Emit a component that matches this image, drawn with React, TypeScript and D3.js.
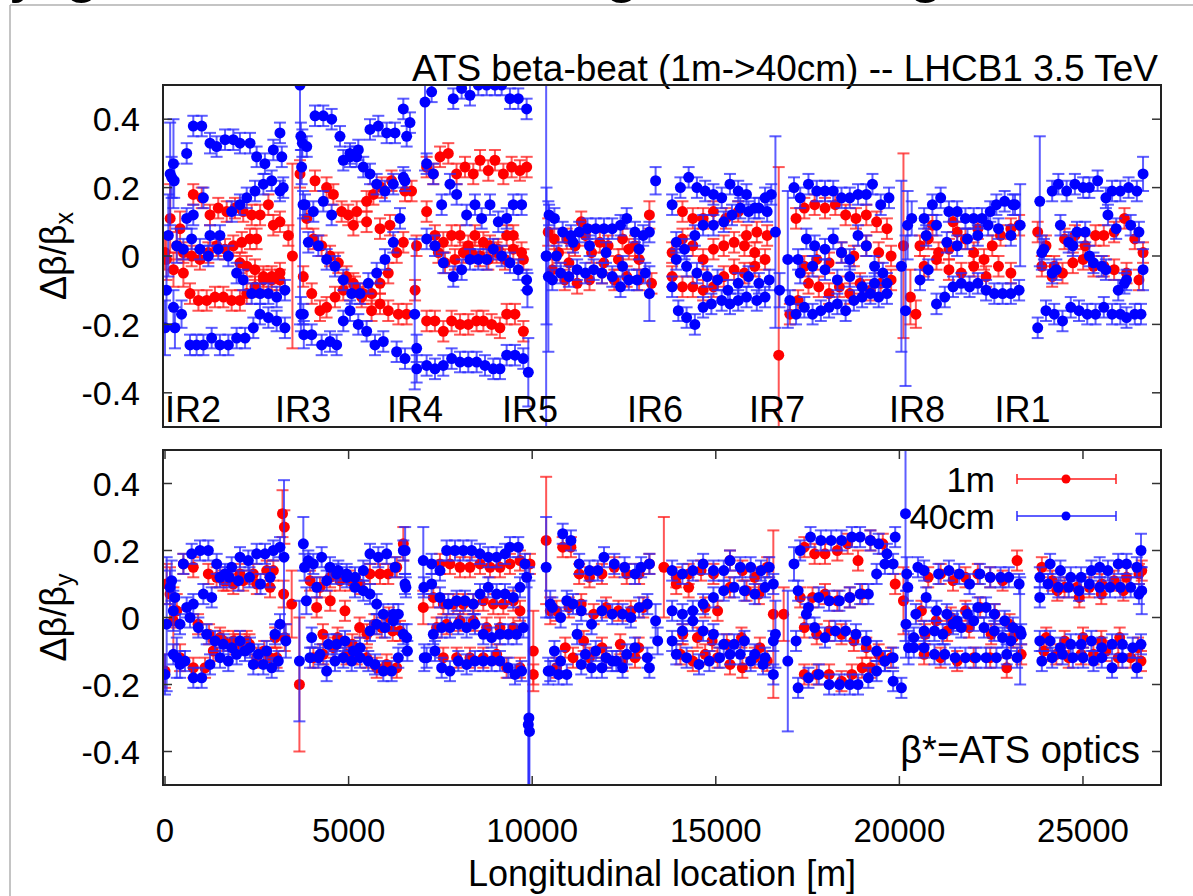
import React, { useMemo } from "react";
import * as d3 from "d3";

type Pt = [number, number, number?];

// typical half-length of an error bar
const typicalErr = 0.03;

const xTicks = [0, 5000, 10000, 15000, 20000, 25000];
const yTicks = [-0.4, -0.2, 0, 0.2, 0.4];
const yTickLabels = ["-0.4", "-0.2", "0", "0.2", "0.4"];

const irLabels: [string, number][] = [
  ["IR2", 0], ["IR3", 2995], ["IR4", 6045], ["IR5", 9177],
  ["IR6", 12580], ["IR7", 15904], ["IR8", 19716], ["IR1", 22588],
];

// horizontal plane, beta* = 1m
const bxRed: Pt[] = [
  [0, 0.01, 0.05], [40, -0.01, 0.06], [140, 0.11, 0.1], [230, -0.04, 0.05], [320, 0.03, 0.04], [410, 0.08, 0.05], [500, -0.05, 0.04],
  [770, 0.18], [1000, 0.17], [1225, 0.12], [1450, 0.14], [1680, 0.13], [1905, 0.14], [2130, 0.13], [2360, 0.12], [2590, 0.12], [2815, 0.15], [2950, 0.09], [3130, 0.1], [3360, 0.06],
  [500, 0.01], [725, 0.0], [950, -0.01], [1180, 0.01], [1405, 0.03], [1635, 0.02], [1860, 0.03], [2090, 0.04], [2315, 0.05], [2495, 0.05],
  [2040, -0.02], [2225, -0.03], [2450, -0.04], [2680, -0.06], [2905, -0.07], [3130, -0.07],
  [680, -0.11], [910, -0.13], [1135, -0.13], [1360, -0.12], [1590, -0.12], [1815, -0.13], [2040, -0.13], [2225, -0.11], [2450, -0.09], [2680, -0.07], [2905, -0.06], [3130, -0.05],
  [3470, 0.0, 0.27], [3676, 0.24, 0.04],
  [4085, 0.22], [4400, 0.2], [4585, 0.18], [4810, 0.13], [4990, 0.12], [5220, 0.13], [5490, 0.16], [5675, 0.18], [5900, 0.2], [6170, 0.22], [6535, 0.19], [6715, 0.19],
  [4040, 0.05], [4265, 0.03], [4495, 0.0], [4720, -0.02], [4945, -0.06], [5175, -0.09], [5400, -0.11], [5630, -0.11], [5855, -0.08], [6080, -0.05], [6310, 0.01], [6490, 0.04],
  [3765, -0.06], [3995, -0.11], [4220, -0.16], [4400, -0.15], [4630, -0.12], [4855, -0.1], [5130, -0.08], [5355, -0.12], [5625, -0.16], [5855, -0.14], [6080, -0.16], [6355, -0.17], [6580, -0.17],
  [3860, 0.11], [5130, 0.09], [5490, 0.1], [5855, 0.08], [6125, 0.09], [6810, -0.1], [6850, 0.03],
  [7125, 0.26], [7305, 0.24], [7490, 0.29], [7715, 0.3], [7940, 0.24], [8170, 0.26], [8395, 0.24], [8580, 0.28], [8805, 0.25], [8985, 0.28], [9215, 0.24], [9440, 0.26], [9665, 0.25], [9850, 0.26],
  [7125, 0.13], [7350, 0.06], [7580, 0.04], [7805, 0.06], [8035, 0.06], [8260, 0.03], [8440, 0.06], [8670, 0.04], [8850, 0.03], [9075, 0.02], [9305, 0.06], [9485, 0.06], [9710, 0.01],
  [7445, 0.01], [7625, -0.02], [7895, -0.01], [8125, 0.01], [8350, 0.01], [8580, 0.0], [8805, -0.01], [9030, 0.01], [9260, -0.01], [9485, 0.02], [9760, -0.01],
  [7125, -0.19], [7350, -0.19], [7580, -0.22], [7805, -0.19], [8035, -0.2], [8260, -0.2], [8485, -0.19], [8670, -0.19], [8895, -0.2], [9120, -0.21], [9305, -0.17], [9530, -0.17], [9760, -0.22],
  [10436, 0.07, 0.04], [10600, 0.05], [10717, 0.01], [10942, 0.05], [11000, -0.02], [11167, 0.03], [11336, 0.1], [11450, 0.06], [11617, 0.01], [11842, 0.04], [11950, -0.02], [12067, 0.03], [12349, -0.01], [12460, 0.05], [12630, 0.02], [12800, 0.03], [12911, -0.01], [13192, 0.12, 0.04],
  [10549, -0.04], [10886, -0.07], [11224, -0.08], [11561, -0.07], [11899, -0.05], [12236, -0.07], [12574, -0.06], [12911, -0.07], [13249, -0.08],
  [14092, 0.13], [14374, 0.11], [14655, 0.11], [14936, 0.13], [15274, 0.11], [15611, 0.13], [15836, 0.06], [16117, 0.07], [16399, 0.06],
  [13811, 0.01], [14092, 0.05], [14374, 0.03], [14655, -0.01], [14936, 0.02], [15217, 0.03], [15499, 0.04], [15780, 0.03], [16061, 0.01], [16342, -0.01],
  [13811, -0.06], [14092, -0.09], [14374, -0.09], [14655, -0.1], [14936, -0.09], [15217, -0.06], [15499, -0.04], [15780, -0.05], [16061, -0.03],
  [16714, -0.29, 0.55],
  [17186, 0.11], [17411, 0.14], [17692, 0.15], [17974, 0.14], [18255, 0.15], [18536, 0.12], [18817, 0.11], [19099, 0.12], [19380, 0.1], [19661, 0.08],
  [17017, -0.17], [17242, -0.13], [17524, -0.08], [17805, -0.09], [18086, -0.11], [18367, -0.09], [18649, -0.11], [18930, -0.08], [19211, -0.1], [19492, -0.08], [19774, -0.07],
  [17411, -0.03], [17749, -0.01], [18086, -0.02], [18424, 0.01], [18761, 0.0], [19099, 0.03], [19436, 0.01], [19774, 0.0],
  [20111, 0.03, 0.27], [20449, -0.17, 0.04], [20300, -0.12, 0.08],
  [20561, 0.03], [20786, 0.05], [21067, 0.01], [21349, 0.02], [21574, 0.07], [21799, 0.05], [22024, 0.01], [22305, -0.01], [22530, 0.03], [22755, 0.06], [23036, 0.08], [23261, 0.09],
  [20674, -0.03], [21011, -0.01], [21349, -0.04], [21686, -0.05], [22024, -0.03], [22361, -0.06], [22699, -0.03], [23036, -0.05],
  [20899, 0.09], [21461, 0.1], [22136, 0.08],
  [23767, 0.07], [23992, 0.03], [24217, -0.03], [24499, 0.05], [24780, 0.06], [25061, 0.03], [25342, 0.06], [25567, 0.06], [25849, 0.07], [26130, 0.11], [26411, 0.05], [26636, 0.01],
  [23880, -0.03], [24161, -0.06], [24442, -0.05], [24724, -0.02], [25005, -0.01], [25286, -0.03], [25567, -0.03], [25849, -0.04], [26186, -0.05], [26524, -0.07],
];

// horizontal plane, beta* = 40cm
const bxBlue: Pt[] = [
  [0, -0.21, 0.08], [40, -0.1, 0.1], [90, 0.06, 0.12], [140, 0.24, 0.15], [180, 0.23, 0.06], [230, 0.27, 0.13], [250, 0.22, 0.05], [230, -0.15, 0.05], [270, -0.21, 0.06], [320, 0.03, 0.05], [450, -0.17, 0.04],
  [590, 0.3], [770, 0.38], [1000, 0.38], [1225, 0.33], [1405, 0.32], [1635, 0.34], [1860, 0.34], [2040, 0.33], [2315, 0.33], [2495, 0.29], [2720, 0.27], [2950, 0.31], [3130, 0.36],
  [590, 0.11], [770, 0.12], [1045, 0.17], [1225, 0.06], [1495, 0.06], [1815, 0.13], [2040, 0.15], [2225, 0.17], [2450, 0.19], [2680, 0.21], [2905, 0.22], [3130, 0.19],
  [500, 0.02], [725, 0.05], [950, 0.02], [1180, 0.0], [1450, 0.02], [1725, 0.0], [1950, -0.05], [2130, -0.07], [2360, -0.11], [2590, -0.11], [2815, -0.11], [3040, -0.12], [3265, -0.1],
  [680, -0.26], [860, -0.26], [1045, -0.26], [1270, -0.24], [1495, -0.26], [1725, -0.26], [1950, -0.24], [2180, -0.24], [2405, -0.21], [2585, -0.17], [2815, -0.18], [3040, -0.19], [3265, -0.21],
  [3180, 0.29], [3220, 0.2],
  [3676, 0.5, 0.7], [3700, 0.35, 0.04], [3740, 0.33, 0.04], [3720, 0.26, 0.05], [3760, 0.15, 0.04], [3700, -0.17, 0.05], [3780, -0.23, 0.04],
  [3860, 0.32], [4085, 0.41], [4311, 0.41], [4538, 0.4], [4765, 0.35], [5038, 0.29], [5264, 0.31], [5582, 0.37], [5809, 0.38], [6036, 0.36], [6263, 0.36], [6490, 0.43], [6581, 0.35], [6671, 0.39],
  [3812, 0.15], [4039, 0.13], [4311, 0.16], [4538, 0.12], [4856, 0.28], [5038, 0.3], [5219, 0.29], [5400, 0.26], [5582, 0.24], [5764, 0.21], [5990, 0.19], [6217, 0.21], [6490, 0.23],
  [3903, 0.04], [4175, 0.03], [4402, -0.01], [4629, -0.03], [4856, -0.07], [5083, -0.11], [5310, -0.11], [5537, -0.08], [5764, -0.05], [5990, -0.01], [6217, 0.04], [6399, 0.11], [6535, 0.22],
  [3767, -0.17], [3994, -0.23], [4266, -0.26], [4493, -0.25], [4674, -0.26], [4856, -0.19], [5038, -0.16], [5264, -0.2], [5491, -0.22], [5718, -0.26], [5945, -0.25], [6308, -0.28], [6535, -0.3], [6853, -0.33, 0.04], [6853, -0.27, 0.04],
  [6800, -0.17, 0.22],
  [7080, 0.45, 0.2], [7261, 0.48], [7851, 0.46], [8078, 0.49], [8305, 0.47], [8532, 0.5], [8759, 0.5], [8986, 0.5], [9168, 0.5], [9394, 0.46], [9621, 0.46], [9848, 0.43],
  [7125, 0.27], [7307, 0.24], [7534, 0.15], [7760, 0.21], [7942, 0.18], [8214, 0.12], [8441, 0.15], [8623, 0.11], [8850, 0.15], [9077, 0.1], [9304, 0.11], [9485, 0.15], [9712, 0.15],
  [7125, 0.05], [7352, 0.03], [7579, -0.02], [7851, -0.06], [8078, -0.04], [8305, -0.01], [8532, -0.01], [8759, -0.01], [8941, 0.02], [9168, 0.0], [9394, -0.02], [9621, -0.04], [9848, -0.07], [9870, -0.1, 0.05],
  [7125, -0.32], [7352, -0.33], [7579, -0.32], [7806, -0.3], [8033, -0.31], [8260, -0.31], [8487, -0.31], [8714, -0.32], [8941, -0.33], [9122, -0.33], [9304, -0.29], [9531, -0.29], [9757, -0.3], [9894, -0.34, 0.1],
  [10380, 0.0, 0.6], [10390, 0.0, 0.2], [10440, -0.06, 0.22], [10460, 0.12, 0.03],
  [10605, 0.11], [10830, 0.07], [11055, 0.06], [11280, 0.07], [11505, 0.08], [11730, 0.08], [11955, 0.08], [12180, 0.08], [12405, 0.09], [12574, 0.11], [12799, 0.07], [13024, 0.06], [13192, 0.07],
  [10549, -0.07], [10774, -0.05], [10999, -0.06], [11224, -0.04], [11449, -0.05], [11674, -0.04], [11899, -0.05], [12180, -0.06], [12405, -0.09], [12630, -0.07], [12855, -0.07], [13080, -0.05],
  [10661, 0.0], [11111, 0.04], [11561, 0.03], [12011, 0.01], [12461, -0.03], [12911, 0.02],
  [13361, 0.22, 0.04], [13192, -0.11, 0.08],
  [13811, 0.15], [14036, 0.2], [14261, 0.23], [14486, 0.2], [14711, 0.19], [14936, 0.18], [15161, 0.17], [15386, 0.21], [15611, 0.19], [15836, 0.18], [16061, 0.14], [16342, 0.17], [16511, 0.18],
  [13811, -0.09], [13980, -0.16], [14205, -0.18], [14430, -0.2], [14655, -0.15], [14880, -0.14], [15161, -0.13], [15386, -0.14], [15611, -0.13], [15836, -0.12], [16117, -0.13], [16342, -0.12],
  [13924, 0.04], [14149, 0.02], [14430, 0.06], [14655, 0.09], [14936, 0.09], [15217, 0.1], [15442, 0.12], [15667, 0.14], [15892, 0.13], [16174, 0.14], [16399, 0.13],
  [13924, -0.01], [14205, -0.03], [14486, -0.05], [14767, -0.06], [15049, -0.07], [15330, -0.1], [15611, -0.08], [15892, -0.06], [16174, -0.08], [16455, -0.07],
  [16624, 0.07, 0.28], [16736, -0.1, 0.05], [16961, -0.01, 0.2],
  [17130, 0.2], [17299, 0.17], [17524, 0.21], [17749, 0.19], [17974, 0.19], [18199, 0.19], [18424, 0.17], [18649, 0.17], [18874, 0.18], [19099, 0.18], [19267, 0.21], [19492, 0.15], [19717, 0.17],
  [17017, -0.13], [17186, -0.17], [17411, -0.15], [17636, -0.17], [17861, -0.16], [18086, -0.15], [18311, -0.14], [18536, -0.16], [18761, -0.13], [18986, -0.12], [19211, -0.11], [19436, -0.12], [19661, -0.11],
  [17242, -0.01], [17467, 0.05], [17692, 0.03], [17974, 0.02], [18199, 0.05], [18424, 0.01], [18649, -0.01], [18874, 0.06], [19099, 0.03], [19324, -0.03], [19549, -0.05],
  [17299, -0.05], [17636, -0.03], [17974, -0.04], [18311, -0.07], [18649, -0.06], [18986, -0.09], [19324, -0.08], [19661, -0.08],
  [20055, -0.03, 0.25], [20167, -0.16, 0.22], [20224, 0.09, 0.1], [20336, 0.11, 0.05],
  [20674, 0.11], [20899, 0.15], [21124, 0.17], [21349, 0.13], [21574, 0.13], [21799, 0.11], [22024, 0.11], [22249, 0.11], [22474, 0.13], [22642, 0.15], [22867, 0.16], [23092, 0.15], [23149, 0.15], [23290, 0.09, 0.12],
  [20561, -0.07], [20786, -0.04], [21011, -0.14], [21236, -0.12], [21461, -0.09], [21686, -0.08], [21911, -0.09], [22136, -0.08], [22361, -0.1], [22586, -0.11], [22811, -0.11], [23036, -0.11], [23261, -0.1],
  [20730, 0.06], [21011, 0.09], [21292, 0.04], [21574, 0.03], [21855, 0.05], [22136, 0.06], [22417, 0.09], [22699, 0.08], [23036, 0.06],
  [23767, -0.21], [23824, 0.16, 0.19], [23880, 0.01, 0.05], [23992, -0.16], [24161, 0.19], [24330, 0.21], [24442, -0.19], [24555, 0.19], [24780, 0.21], [25005, 0.2], [25174, 0.2], [25399, 0.22], [25624, 0.17], [25792, 0.19], [26017, 0.19], [26242, 0.2], [26467, 0.19], [26636, 0.24, 0.05],
  [24217, -0.17], [24667, -0.15], [24892, -0.16], [25117, -0.17], [25342, -0.17], [25567, -0.15], [25792, -0.17], [26017, -0.17], [26186, -0.18], [26411, -0.17], [26580, -0.17],
  [23936, 0.02], [24161, -0.05], [24386, 0.09], [24611, 0.04], [24836, 0.07], [25061, 0.07], [25286, -0.02], [25511, -0.03], [25680, 0.12], [25905, 0.08], [26130, -0.08], [26299, 0.09], [26524, 0.07], [26636, -0.04, 0.06],
  [24274, -0.04], [24724, 0.03], [25174, 0.0], [25624, -0.04], [25961, -0.1], [26186, -0.07],
];

// vertical plane, beta* = 1m
const byRed: Pt[] = [
  [0, -0.16, 0.05], [45, 0.1, 0.06], [136, 0.07, 0.08], [227, -0.01, 0.1], [320, 0.02, 0.05], [410, -0.12, 0.04],
  [500, 0.16], [770, 0.15], [1180, 0.13], [1405, 0.12], [1680, 0.11], [2040, 0.13], [2405, 0.13], [2770, 0.14], [2950, 0.14],
  [1590, 0.11], [1860, 0.1], [2130, 0.11], [2500, 0.1], [2860, 0.09],
  [900, -0.02], [1200, -0.05], [1500, -0.06], [1900, -0.08], [2300, -0.08], [2700, -0.1], [3000, -0.06],
  [770, -0.15], [1090, -0.15], [1315, -0.1], [1590, -0.07], [1860, -0.07], [2040, -0.08], [2225, -0.07], [2495, -0.12], [2860, -0.12], [3040, -0.12],
  [3200, 0.31, 0.07], [3250, 0.27, 0.05], [3230, 0.07, 0.04], [3260, -0.06, 0.04], [3450, 0.04, 0.1], [3660, -0.2, 0.2],
  [3950, 0.11], [4220, 0.09], [4495, 0.12], [4765, 0.11], [5040, 0.11], [5310, 0.1], [5580, 0.13], [5855, 0.13], [6080, 0.13], [6310, 0.15], [6490, 0.22, 0.05],
  [4040, -0.12], [4310, -0.11], [4585, -0.09], [4945, -0.11], [5220, -0.11], [5490, -0.12], [5765, -0.15], [6035, -0.14], [6310, -0.15],
  [4130, 0.03], [4500, 0.05], [4900, 0.02], [5300, -0.03], [5700, -0.02], [6100, 0.0], [6400, -0.04],
  [4300, -0.05], [4700, -0.06], [5100, -0.08], [5500, -0.05], [5900, -0.03], [6200, -0.04],
  [7034, 0.03, 0.05],
  [7488, 0.16], [7760, 0.16], [8033, 0.15], [8305, 0.15], [8578, 0.16], [8850, 0.15], [9122, 0.15], [9394, 0.16], [9667, 0.17], [9939, 0.16],
  [7307, 0.06], [7579, 0.04], [7851, 0.04], [8124, 0.04], [8396, 0.04], [8668, 0.05], [8941, 0.04], [9213, 0.04], [9485, 0.05], [9667, 0.02],
  [7397, -0.03], [7670, -0.02], [8033, -0.01], [8396, -0.01], [8759, -0.03], [9122, -0.03], [9485, -0.03],
  [7579, -0.12], [7942, -0.12], [8305, -0.12], [8668, -0.12], [9031, -0.11], [9304, -0.15], [9667, -0.15], [10030, -0.17], [10030, -0.1, 0.12],
  [10380, 0.23, 0.19], [10492, 0.02, 0.04],
  [10830, 0.21], [11055, 0.21], [11280, 0.13], [11561, 0.12], [11899, 0.13], [12236, 0.15], [12574, 0.13], [12911, 0.13], [13192, 0.16],
  [10661, 0.02], [10999, 0.03], [11336, 0.04], [11674, 0.01], [12011, 0.03], [12349, 0.02], [12686, 0.02], [13024, 0.03],
  [10661, -0.15], [11111, -0.12], [11561, -0.12], [12011, -0.12], [12461, -0.13], [12799, -0.12],
  [10900, -0.09], [11400, -0.07], [11900, -0.09], [12400, -0.08], [12900, -0.09],
  [13586, 0.15, 0.15],
  [13924, 0.12], [14261, 0.13], [14599, 0.14], [14936, 0.13], [15386, 0.17], [15724, 0.14], [16061, 0.12], [16399, 0.15],
  [13924, 0.1], [14261, 0.09], [14711, 0.03], [15049, 0.02], [15386, 0.09], [15836, 0.08], [16174, 0.07],
  [14036, -0.11], [14374, -0.13], [14711, -0.11], [15049, -0.12], [15386, -0.14], [15724, -0.15], [16061, -0.12], [16399, -0.13],
  [14100, -0.05], [14500, -0.06], [14900, -0.07], [15300, -0.08], [15700, -0.06], [16200, -0.09],
  [16567, 0.01, 0.25], [16849, 0.01, 0.08],
  [17411, 0.21], [17692, 0.19], [17974, 0.19], [18311, 0.2], [18592, 0.22], [18874, 0.17], [19211, 0.23], [19549, 0.22], [19886, 0.1],
  [17299, 0.06], [17636, 0.06], [17974, 0.07], [18311, 0.05], [18649, 0.06], [18986, 0.07],
  [17411, -0.03], [17749, -0.05], [18086, -0.04], [18424, -0.05], [18761, -0.07], [19099, -0.09], [19436, -0.11], [19774, -0.12],
  [17411, -0.17], [17749, -0.17], [18086, -0.17], [18424, -0.19], [18705, -0.17], [18986, -0.15], [19211, -0.15],
  [20111, 0.05, 0.1],
  [20786, 0.12], [21124, 0.13], [21461, 0.11], [21799, 0.12], [22136, 0.13], [22474, 0.12], [22811, 0.11], [23205, 0.17],
  [20600, 0.02], [21000, -0.01], [21400, 0.0], [21800, 0.02], [22200, 0.03], [22600, 0.01], [23000, -0.02],
  [20674, -0.11], [21124, -0.12], [21574, -0.13], [22024, -0.12], [22474, -0.12], [22924, -0.15], [23317, -0.11],
  [20700, -0.05], [21300, -0.04], [21900, -0.03], [22500, -0.05], [23100, -0.06],
  [23880, 0.15], [24161, 0.11], [24499, 0.09], [24836, 0.09], [25174, 0.09], [25511, 0.1], [25849, 0.11], [26186, 0.12], [26524, 0.13],
  [23936, -0.1], [24274, -0.11], [24611, -0.12], [24949, -0.11], [25286, -0.11], [25624, -0.1], [25961, -0.12], [26299, -0.12], [26580, -0.13],
  [24000, -0.06], [24500, -0.07], [25000, -0.06], [25500, -0.07], [26000, -0.06], [26500, -0.09],
  [24300, 0.08], [24900, 0.06], [25500, 0.07], [26100, 0.08], [26600, 0.14],
];

// vertical plane, beta* = 40cm
const byBlue: Pt[] = [
  [0, -0.17, 0.06], [45, -0.02, 0.2], [136, 0.09, 0.05], [180, 0.11, 0.06], [227, 0.02, 0.06], [270, 0.06, 0.05], [320, -0.12, 0.06], [410, -0.14, 0.04],
  [500, 0.16], [726, 0.19], [953, 0.2], [1180, 0.2], [1407, 0.16], [1634, 0.13], [1815, 0.15], [2042, 0.18], [2269, 0.17], [2496, 0.19], [2723, 0.19], [2950, 0.2], [3131, 0.21],
  [590, 0.03], [771, 0.04], [1044, 0.07], [1271, 0.06], [1497, 0.12], [1750, 0.12], [2000, 0.11], [2300, 0.12], [2600, 0.1], [2860, 0.12],
  [408, -0.02], [680, 0.0], [908, -0.03], [1134, -0.05], [1361, -0.07], [1588, -0.08], [1815, -0.09], [2042, -0.07], [2314, -0.09], [2541, -0.11], [2768, -0.1], [2995, -0.05], [3131, -0.02],
  [227, -0.11], [544, -0.13], [771, -0.18], [998, -0.18], [1225, -0.14], [1497, -0.12], [1724, -0.13], [1951, -0.11], [2178, -0.1], [2405, -0.14], [2677, -0.14], [2905, -0.15], [3086, -0.13],
  [3240, 0.18, 0.23], [3290, -0.07, 0.05], [3660, -0.13, 0.18], [3767, 0.22, 0.08], [3800, 0.15, 0.04], [3850, 0.05, 0.04],
  [3903, 0.17], [4039, 0.16], [4266, 0.18], [4493, 0.15], [4720, 0.14], [4947, 0.13], [5174, 0.12], [5401, 0.14], [5582, 0.19], [5809, 0.18], [6036, 0.19], [6263, 0.15], [6490, 0.2],
  [4130, 0.09], [4402, 0.11], [4674, 0.13], [4947, 0.12], [5174, 0.09], [5401, 0.08], [5582, 0.07], [5764, 0.04], [5945, 0.01], [6217, 0.01], [6354, 0.01], [6535, 0.1],
  [3994, -0.06], [4221, -0.11], [4448, -0.08], [4674, -0.08], [4901, -0.07], [5128, -0.1], [5310, -0.09], [5582, -0.04], [5764, -0.02], [5990, -0.03], [6217, -0.01], [6490, -0.05],
  [3948, -0.12], [4175, -0.12], [4402, -0.16], [4629, -0.13], [4856, -0.12], [5083, -0.13], [5310, -0.12], [5537, -0.13], [5718, -0.14], [5945, -0.16], [6172, -0.16], [6354, -0.12],
  [6540, 0.2, 0.07], [6560, 0.09], [6581, -0.06, 0.04], [6600, -0.1],
  [7034, 0.17, 0.1], [7050, 0.09], [7060, -0.12, 0.04],
  [7261, 0.16], [7488, 0.14], [7670, 0.2], [7897, 0.2], [8124, 0.2], [8351, 0.2], [8578, 0.19], [8804, 0.18], [9031, 0.18], [9258, 0.19], [9394, 0.21], [9621, 0.21], [9803, 0.16],
  [7261, 0.1], [7488, 0.06], [7715, 0.04], [7942, 0.05], [8169, 0.05], [8396, 0.04], [8578, 0.07], [8804, 0.09], [9031, 0.07], [9258, 0.07], [9485, 0.06], [9667, 0.09], [9848, 0.12],
  [7307, -0.05], [7534, -0.03], [7760, -0.03], [7987, -0.02], [8214, -0.03], [8441, -0.02], [8668, -0.05], [8895, -0.06], [9122, -0.05], [9349, -0.05], [9576, -0.05], [9757, -0.03],
  [7125, -0.12], [7352, -0.1], [7534, -0.15], [7760, -0.16], [7987, -0.13], [8214, -0.14], [8441, -0.13], [8668, -0.13], [8895, -0.13], [9122, -0.13], [9349, -0.15], [9531, -0.17], [9712, -0.16],
  [9894, -0.32, 0.45], [9910, -0.3, 0.45], [9925, -0.34, 0.45],
  [10380, 0.15, 0.15], [10492, 0.04, 0.04], [10436, -0.16, 0.04],
  [10830, 0.25], [11055, 0.23], [11280, 0.16], [11561, 0.14], [11786, 0.14], [11955, 0.18], [12236, 0.16], [12517, 0.15], [12799, 0.13], [12967, 0.15], [13192, 0.16],
  [10549, 0.03], [10774, 0.0], [10942, 0.05], [11111, 0.04], [11336, 0.02], [11617, -0.02], [11899, 0.02], [12180, 0.01], [12461, 0.01], [12686, 0.0], [12911, 0.03], [13136, 0.04],
  [10605, -0.1], [10774, -0.13], [11224, -0.05], [11449, -0.11], [11730, -0.1], [12011, -0.12], [12292, -0.13], [12574, -0.11], [12799, -0.09], [13136, -0.12], [13192, -0.15],
  [10492, -0.16], [10717, -0.17], [10942, -0.17], [11336, -0.14], [11617, -0.15], [11899, -0.15], [12180, -0.13], [12461, -0.15],
  [13361, -0.01, 0.05], [13417, -0.07, 0.04],
  [13811, 0.14], [14092, 0.13], [14374, 0.14], [14655, 0.16], [14936, 0.14], [15217, 0.14], [15386, 0.17], [15667, 0.15], [15949, 0.15], [16230, 0.14], [16455, 0.15],
  [13811, 0.02], [14092, 0.01], [14374, 0.02], [14655, 0.04], [14936, 0.06], [15217, 0.08], [15499, 0.09], [15780, 0.08], [16061, 0.07], [16342, 0.09], [16567, 0.1],
  [13811, -0.07], [14092, -0.04], [14374, -0.01], [14655, -0.04], [14936, -0.05], [15217, -0.08], [15499, -0.08], [15780, -0.07], [16061, -0.11], [16342, -0.12], [16567, -0.07],
  [13924, -0.11], [14205, -0.12], [14542, -0.14], [14824, -0.13], [15105, -0.12], [15386, -0.11], [15667, -0.11], [15949, -0.13], [16286, -0.14], [16567, -0.17],
  [16624, -0.05, 0.1], [16961, -0.13, 0.21], [17130, 0.16, 0.05],
  [17299, 0.2], [17580, 0.24], [17861, 0.23], [18142, 0.23], [18424, 0.23], [18705, 0.24], [18930, 0.24], [19211, 0.23], [19436, 0.22], [19661, 0.19], [19886, 0.24],
  [17242, 0.08], [17524, 0.03], [17805, 0.06], [18086, 0.05], [18367, 0.05], [18649, 0.06], [18930, 0.07], [19155, 0.07], [19380, 0.13], [19605, 0.16], [19830, 0.16],
  [17186, -0.07], [17467, 0.01], [17692, -0.03], [17974, -0.06], [18255, -0.04], [18536, -0.04], [18817, -0.05], [19099, -0.07], [19380, -0.1], [19605, -0.13], [19830, -0.12],
  [17242, -0.21], [17524, -0.18], [17805, -0.17], [18086, -0.2], [18367, -0.2], [18649, -0.2], [18874, -0.2], [19155, -0.18], [19380, -0.16], [19605, -0.13], [19830, -0.19], [20055, -0.21],
  [20167, 0.31, 0.38], [20180, -0.02, 0.1], [20200, 0.13, 0.05], [20230, 0.09, 0.04], [20250, -0.09, 0.05],
  [20505, 0.15], [20674, 0.14], [21067, 0.13], [21349, 0.14], [21630, 0.13], [21911, 0.1], [22192, 0.13], [22474, 0.12], [22755, 0.12], [22980, 0.12], [23261, 0.1],
  [20449, 0.01], [20730, 0.06], [21011, 0.02], [21292, 0.01], [21574, -0.01], [21855, 0.01], [22136, 0.03], [22361, 0.03], [22586, 0.01], [22867, -0.01], [23092, -0.03], [23317, -0.05],
  [20392, -0.06], [20674, -0.04], [20955, -0.04], [21180, -0.05], [21461, -0.02], [21686, -0.03], [22024, -0.01], [22305, -0.03], [22586, -0.04], [22811, -0.06], [23036, -0.07],
  [20392, -0.09], [20674, -0.09], [20955, -0.11], [21236, -0.11], [21517, -0.12], [21799, -0.12], [22080, -0.12], [22361, -0.12], [22642, -0.12], [22924, -0.11], [23205, -0.12],
  [23290, -0.04, 0.16],
  [23824, 0.12], [24105, 0.16], [24386, 0.14], [24667, 0.12], [24949, 0.12], [25230, 0.14], [25455, 0.15], [25680, 0.14], [25961, 0.16], [26186, 0.16], [26467, 0.15], [26580, 0.2, 0.05],
  [23824, 0.06], [24049, 0.1], [24330, 0.09], [24611, 0.09], [24892, 0.08], [25174, 0.1], [25455, 0.09], [25736, 0.09], [26017, 0.09], [26299, 0.09], [26524, 0.07],
  [23824, -0.07], [24105, -0.07], [24386, -0.09], [24667, -0.08], [24949, -0.08], [25230, -0.07], [25511, -0.09], [25792, -0.08], [26074, -0.08], [26355, -0.09], [26580, -0.08],
  [23880, -0.13], [24161, -0.12], [24442, -0.11], [24724, -0.12], [25005, -0.12], [25286, -0.13], [25511, -0.12], [25792, -0.15], [26074, -0.12], [26467, -0.15],
  [26600, 0.08, 0.07],
];

const RED = "#ff0000";
const RED_BAR = "rgba(255,30,30,0.75)";
const BLUE = "#0000ff";
const BLUE_BAR = "rgba(40,40,255,0.75)";
const FONT = "'Liberation Sans', Arial, sans-serif";

const left = 163, right = 1161;
const panels = [
  { key: "x", top: 85, bottom: 427, red: bxRed, blue: bxBlue, sub: "x", xTicks: false },
  { key: "y", top: 450, bottom: 785, red: byRed, blue: byBlue, sub: "y", xTicks: true },
];

function Series({ data, x, y, color, bar, top, bottom }: any) {
  return (
    <g>
      {data.map((d: Pt, i: number) => {
        const e = d[2] ?? typicalErr;
        const cx = x(d[0]);
        const y1 = y(d[1] + e);
        const y0 = y(d[1] - e);
        return (
          <g key={i}>
            <line x1={cx} x2={cx} y1={Math.max(y1, top)} y2={Math.min(y0, bottom)} stroke={bar} strokeWidth={2} />
            {y1 >= top && <line x1={cx - 6} x2={cx + 6} y1={y1} y2={y1} stroke={bar} strokeWidth={2} />}
            {y0 <= bottom && <line x1={cx - 6} x2={cx + 6} y1={y0} y2={y0} stroke={bar} strokeWidth={2} />}
          </g>
        );
      })}
      {data.map((d: Pt, i: number) => (
        <circle key={"c" + i} cx={x(d[0])} cy={y(d[1])} r={5.5} fill={color} />
      ))}
    </g>
  );
}

export default function App() {
  const x = useMemo(() => d3.scaleLinear().domain([-55, 27125]).range([left, right]), []);

  return (
    <svg width={1193} height={896} style={{ position: "absolute", left: 0, top: 0, background: "#fff" }} fontFamily={FONT}>
      <rect width={1193} height={896} fill="#fff" />
      <defs>
        <clipPath id="slideTop"><rect x={0} y={0} width={1193} height={5} /></clipPath>
        {panels.map((p) => (
          <clipPath key={p.key} id={"clip" + p.key}>
            <rect x={left} y={p.top} width={right - left} height={p.bottom - p.top} />
          </clipPath>
        ))}
      </defs>
      {/* slide frame and the lower edge of the slide title, cut off as in the picture */}
      <g clipPath="url(#slideTop)" fontSize={64} fill="#000">
        <text x={10} y={-10}>y</text>
        <text x={64} y={-10}>g</text>
        <text x={604} y={-10}>g</text>
        <text x={908} y={-10}>g</text>
      </g>
      <line x1={10} x2={1193} y1={5} y2={5} stroke="#b0b0b0" strokeWidth={1.5} />
      <line x1={10} x2={10} y1={5} y2={896} stroke="#b0b0b0" strokeWidth={1.5} />

      <text x={1158} y={81} textAnchor="end" fontSize={37} fill="#000">ATS beta-beat (1m-&gt;40cm) -- LHCB1 3.5 TeV</text>

      {panels.map((p) => {
        const y = d3.scaleLinear().domain([-0.5, 0.5]).range([p.bottom, p.top]);
        const midY = y(0);
        return (
          <g key={p.key}>
            <g clipPath={`url(#clip${p.key})`}>
              <Series data={p.red} x={x} y={y} color={RED} bar={RED_BAR} top={p.top} bottom={p.bottom} />
              <Series data={p.blue} x={x} y={y} color={BLUE} bar={BLUE_BAR} top={p.top} bottom={p.bottom} />
            </g>
            {yTicks.map((t, i) => (
              <g key={t}>
                <line x1={left} x2={left + 9} y1={y(t)} y2={y(t)} stroke="#333" strokeWidth={1.5} />
                <line x1={right - 9} x2={right} y1={y(t)} y2={y(t)} stroke="#333" strokeWidth={1.5} />
                <text x={140} y={y(t)} dy="0.36em" textAnchor="end" fontSize={34} fill="#000">{yTickLabels[i]}</text>
              </g>
            ))}
            {p.xTicks && xTicks.map((t) => (
              <g key={t}>
                <line x1={x(t)} x2={x(t)} y1={p.top} y2={p.top + 9} stroke="#333" strokeWidth={1.5} />
                <line x1={x(t)} x2={x(t)} y1={p.bottom - 9} y2={p.bottom} stroke="#333" strokeWidth={1.5} />
              </g>
            ))}
            <rect x={left} y={p.top} width={right - left} height={p.bottom - p.top} fill="none" stroke="#222" strokeWidth={2} />
            <text transform={`translate(66,${midY}) rotate(-90)`} textAnchor="middle" fontSize={36} fill="#000">
              Δβ/β<tspan fontSize={25} dy={7}>{p.sub}</tspan>
            </text>
          </g>
        );
      })}

      {irLabels.map(([name, s]) => (
        <text key={name} x={x(s)} y={422} fontSize={36} fill="#000">{name}</text>
      ))}

      {/* legend */}
      {[
        { label: "1m", color: RED, bar: RED_BAR, y: 479 },
        { label: "40cm", color: BLUE, bar: BLUE_BAR, y: 516 },
      ].map((l) => (
        <g key={l.label}>
          <text x={995} y={l.y} dy="0.36em" textAnchor="end" fontSize={35} fill="#000">{l.label}</text>
          <line x1={1017} x2={1116} y1={l.y} y2={l.y} stroke={l.bar} strokeWidth={2} />
          <line x1={1017} x2={1017} y1={l.y - 5} y2={l.y + 5} stroke={l.bar} strokeWidth={2} />
          <line x1={1116} x2={1116} y1={l.y - 5} y2={l.y + 5} stroke={l.bar} strokeWidth={2} />
          <circle cx={1066} cy={l.y} r={4.5} fill={l.color} />
        </g>
      ))}
      <text x={1140} y={763} textAnchor="end" fontSize={38} fill="#000">β*=ATS optics</text>

      {xTicks.map((t) => (
        <text key={t} x={x(t)} y={842} textAnchor="middle" fontSize={33} fill="#000">{t}</text>
      ))}
      <text x={662} y={886} textAnchor="middle" fontSize={36} fill="#000">Longitudinal location [m]</text>
    </svg>
  );
}
